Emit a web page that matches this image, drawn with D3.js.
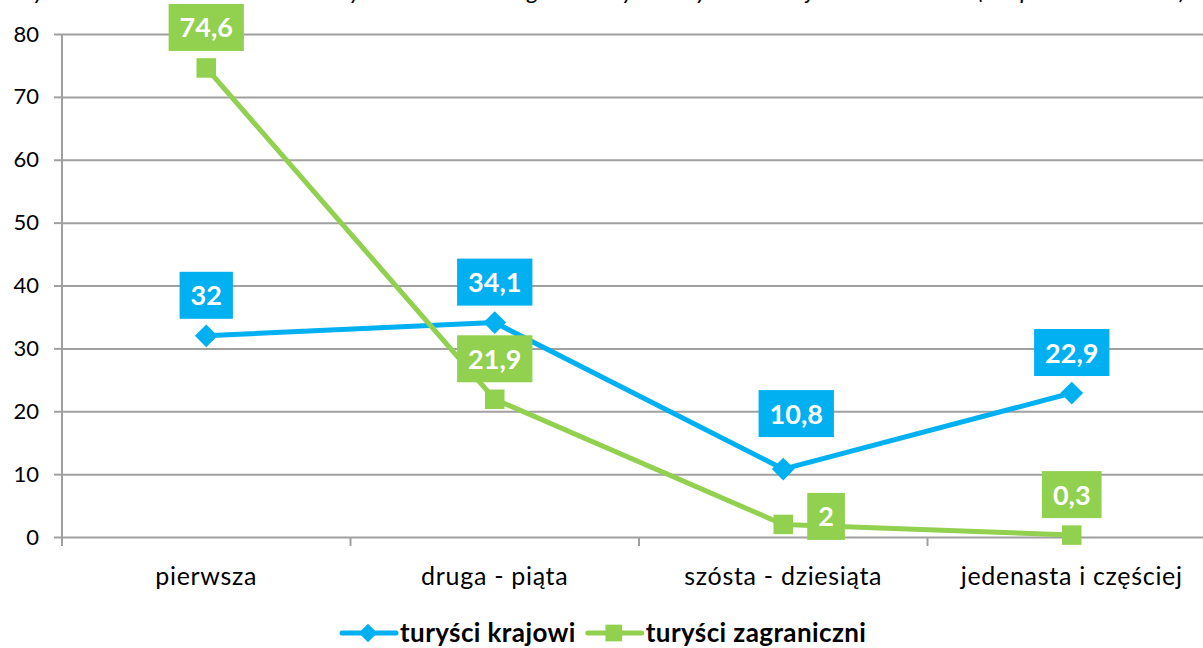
<!DOCTYPE html>
<html>
<head>
<meta charset="utf-8">
<script src="https://cdn.jsdelivr.net/npm/d3@7"></script>
<style>
  html, body { margin: 0; padding: 0; background: #fff; }
  svg { display: block; font-family: Lato, "Open Sans", sans-serif; }
</style>
</head>
<body>
<div id="chart"></div>
<script>
const categories = ["pierwsza", "druga - piąta", "szósta - dziesiąta", "jedenasta i częściej"];
const krajowi = [32, 34.1, 10.8, 22.9];
const zagraniczni = [74.6, 21.9, 2, 0.3];
const yTicks = [0, 10, 20, 30, 40, 50, 60, 70, 80];
const seriesNames = ["turyści krajowi", "turyści zagraniczni"];
// where the value label sits relative to its point
const krajowiPlace = ["top", "top", "upper", "top"];
const zagraniczniPlace = ["top", "top", "right", "top"];

const width = 1203;
const height = 648;
const marginTop = 34;
const marginLeft = 62;
const plotRight = 1216;
const plotBottom = 537;

const blue = "#00b0f0";
const green = "#92d050";
const gridColor = "#a0a0a0";

const svg = d3.select("#chart")
    .append("svg")
    .attr("width", width)
    .attr("height", height);

// title (cut off by the top edge in the original)
svg.append("text")
    .attr("x", 6)
    .attr("y", -1)
    .attr("textLength", 1180)
    .attr("lengthAdjust", "spacing")
    .style("font-size", "24px")
    .style("font-style", "italic")
    .style("fill", "#000")
    .text("Wykres 4. Struktura turystów według liczby wizyt w województwie (w procentach)");

const x = d3.scaleBand()
    .domain(categories)
    .range([marginLeft, plotRight]);

const y = d3.scaleLinear()
    .domain([0, 80])
    .range([plotBottom, marginTop]);

// horizontal grid
svg.append("g")
    .attr("transform", `translate(${marginLeft},0)`)
    .call(d3.axisLeft(y).tickValues(yTicks).tickSize(-(plotRight - marginLeft)).tickFormat(""))
    .call((g) => g.select(".domain").remove())
    .call((g) => g.selectAll(".tick line")
        .attr("stroke", gridColor)
        .attr("stroke-width", 2));

// y axis
svg.append("g")
    .attr("transform", `translate(${marginLeft},0)`)
    .call(d3.axisLeft(y).tickValues(yTicks).tickSize(8).tickPadding(15))
    .call((g) => g.select(".domain")
        .attr("stroke", gridColor)
        .attr("stroke-width", 2)
        .attr("d", `M0,${marginTop}V${plotBottom}`))
    .call((g) => g.selectAll(".tick line").attr("stroke", gridColor).attr("stroke-width", 2))
    .call((g) => g.selectAll(".tick text")
        .style("font-family", "Lato, sans-serif")
        .style("font-size", "22px")
        .attr("fill", "#000"));

// x axis ticks between categories
const boundaries = categories.map((c) => x(c)).concat([plotRight]);
svg.append("g")
    .selectAll("line")
    .data(boundaries)
    .join("line")
    .attr("x1", (d) => d)
    .attr("x2", (d) => d)
    .attr("y1", plotBottom)
    .attr("y2", plotBottom + 9)
    .attr("stroke", gridColor)
    .attr("stroke-width", 2);

svg.append("g")
    .selectAll("text")
    .data(categories)
    .join("text")
    .attr("x", (d) => x(d) + x.bandwidth() / 2)
    .attr("y", 585)
    .attr("text-anchor", "middle")
    .style("font-size", "25px")
    .style("letter-spacing", "0.7px")
    .style("fill", "#000")
    .text((d) => d);

const cx = (i) => x(categories[i]) + x.bandwidth() / 2;

const line = d3.line()
    .x((d, i) => cx(i))
    .y((d) => y(d));

function drawSeries(values, color, symbolType, symbolSize, place) {
    const g = svg.append("g");
    g.append("path")
        .datum(values)
        .attr("fill", "none")
        .attr("stroke", color)
        .attr("stroke-width", 5)
        .attr("stroke-linejoin", "round")
        .attr("d", line);

    g.selectAll("path.marker")
        .data(values)
        .join("path")
        .attr("class", "marker")
        .attr("transform", (d, i) => `translate(${cx(i)},${y(d)})`)
        .attr("d", d3.symbol().type(symbolType).size(symbolSize))
        .attr("fill", color);

    // value labels in coloured boxes
    values.forEach((v, i) => {
        const lg = g.append("g");
        const txt = lg.append("text")
            .attr("text-anchor", "middle")
            .style("font-size", "27px")
            .style("font-weight", "bold")
            .style("fill", "#fff")
            .text(String(v).replace(".", ","));
        const bb = txt.node().getBBox();
        const bw = bb.width + 22;
        const bh = 47;
        let bx, by;
        if (place[i] === "right") {
            bx = cx(i) + 24;
            by = y(v) - bh / 2 - 8;
        } else if (place[i] === "upper") {
            bx = cx(i) - bw / 2 + 13;
            by = y(v) - 32 - bh;
        } else {
            bx = cx(i) - bw / 2;
            by = y(v) - 17 - bh;
        }
        lg.insert("rect", "text")
            .attr("x", bx)
            .attr("y", by)
            .attr("width", bw)
            .attr("height", bh)
            .attr("fill", color);
        txt.attr("x", bx + bw / 2).attr("y", by + bh / 2 + 10);
    });
}

drawSeries(krajowi, blue, d3.symbolDiamond2, 330, krajowiPlace);
drawSeries(zagraniczni, green, d3.symbolSquare, 380, zagraniczniPlace);

// legend
const legend = svg.append("g").attr("transform", "translate(0,633)");
const legendItems = [
    { name: seriesNames[0], color: blue, symbol: d3.symbolDiamond2, size: 220 },
    { name: seriesNames[1], color: green, symbol: d3.symbolSquare, size: 280 },
];
let legendX = 340;
legendItems.forEach((it) => {
    const lg = legend.append("g").attr("transform", `translate(${legendX},0)`);
    lg.append("line")
        .attr("x1", 2)
        .attr("x2", 56)
        .attr("stroke", it.color)
        .attr("stroke-width", 5)
        .attr("stroke-linecap", "round");
    lg.append("path")
        .attr("transform", "translate(28,0)")
        .attr("d", d3.symbol().type(it.symbol).size(it.size))
        .attr("fill", it.color);
    const t = lg.append("text")
        .attr("x", 60)
        .attr("y", 9)
        .style("font-size", "26px")
        .style("font-weight", "bold")
        .style("letter-spacing", "0.4px")
        .style("fill", "#000")
        .text(it.name);
    legendX += 60 + t.node().getComputedTextLength() + 10;
});
</script>
</body>
</html>
